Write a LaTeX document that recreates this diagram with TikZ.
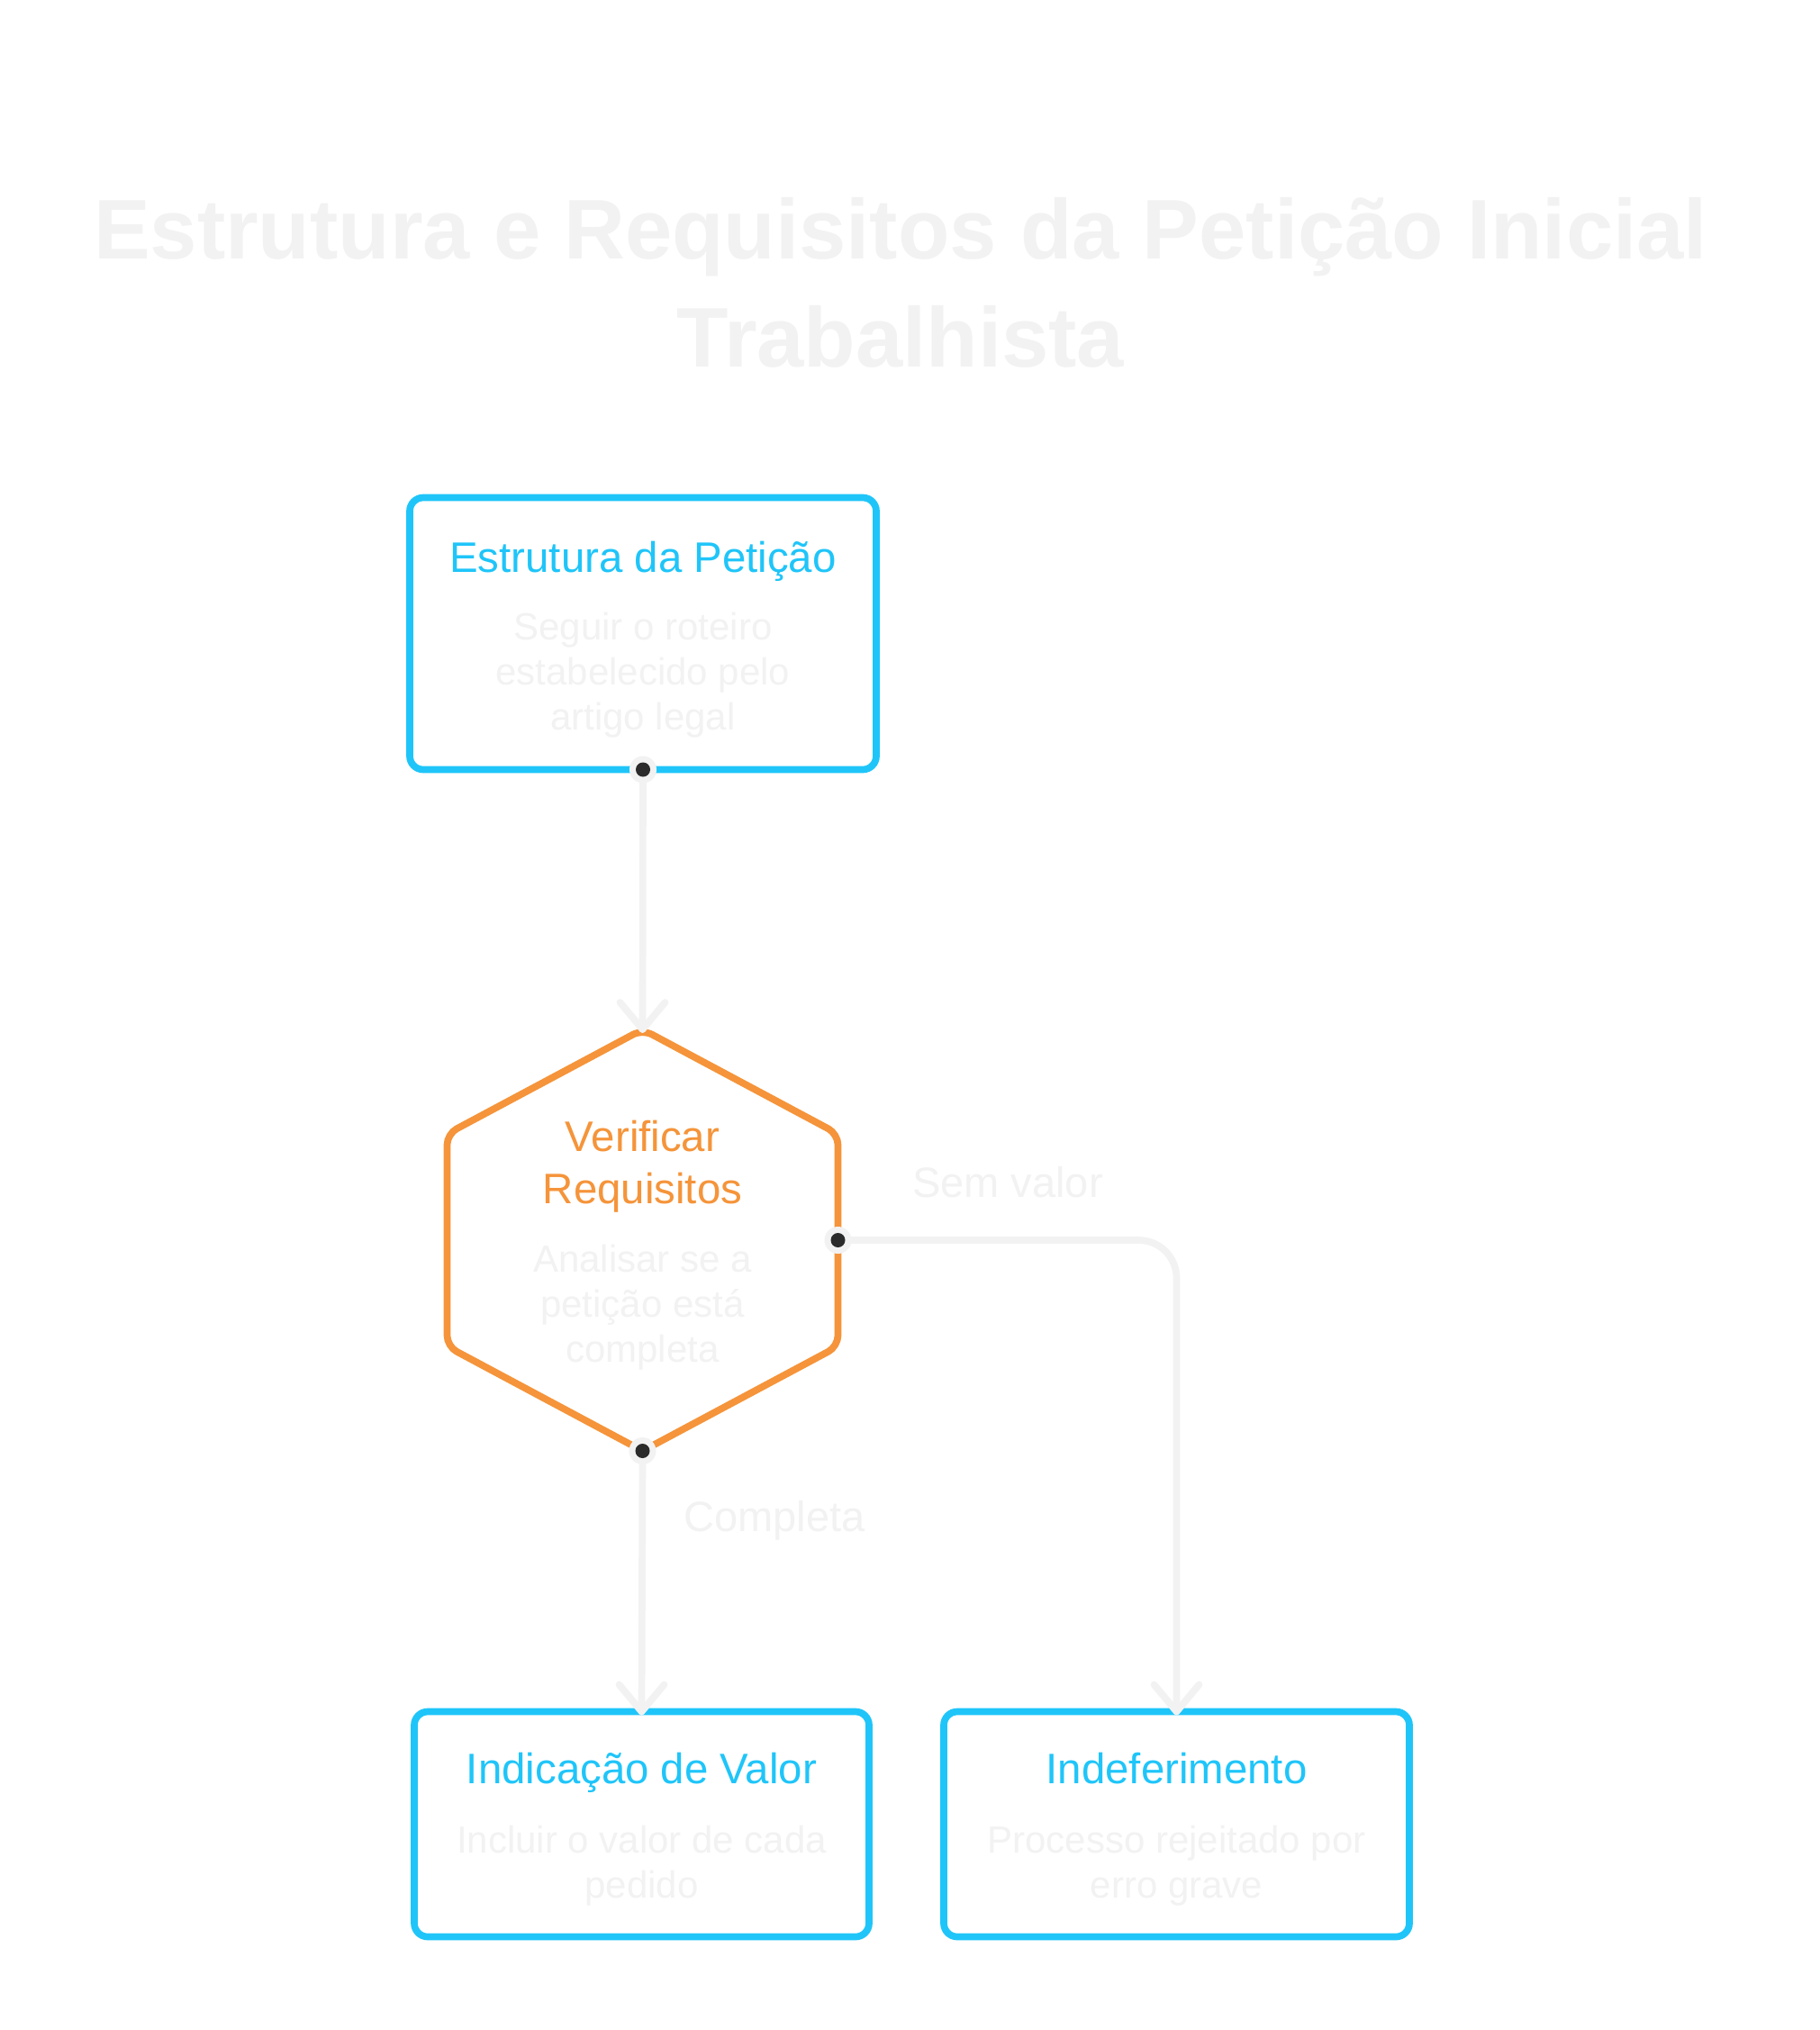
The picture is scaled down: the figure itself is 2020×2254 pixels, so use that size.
\documentclass[tikz,border=0pt]{standalone}
\usepackage{fontspec}
\setmainfont{Liberation Sans}
\usetikzlibrary{calc}
\definecolor{cyanB}{HTML}{1FC5F9}
\definecolor{orangeB}{HTML}{F5943A}
\definecolor{ltgray}{HTML}{F2F2F2}
\definecolor{dotc}{HTML}{2B2B2B}
\begin{document}
\begin{tikzpicture}[x=0.5pt,y=-0.5pt,
  box/.style={draw=cyanB, line width=3.85pt, rounded corners=7.5pt, outer sep=0pt, inner sep=0pt, fill=white},
  hexbox/.style={inner sep=0pt, outer sep=0pt},
  hexline/.style={draw=orangeB, line width=3.85pt, rounded corners=6pt, fill=white},
  conn/.style={draw=ltgray, line width=3.85pt, line cap=round, line join=round},
  ntitle/.style={anchor=base, align=center, inner sep=0pt, font=\fontsize{23.7}{29}\selectfont},
  ndesc/.style={anchor=base, align=center, inner sep=0pt, text=ltgray, font=\fontsize{21}{25}\selectfont},
  elabel/.style={anchor=base, inner sep=0pt, text=ltgray, font=\fontsize{23.5}{29}\selectfont},
  maintitle/.style={anchor=base, align=center, inner sep=0pt, text=ltgray, font=\bfseries\fontsize{47}{60}\selectfont}
]
\useasboundingbox[fill=white] (0,0) rectangle (2020,2254);

% title (anchor base = baseline of last line)
\node[maintitle] (title) at (1000,407) {Estrutura e Requisitos da Petição Inicial\\Trabalhista};

% boxes
\node[box, minimum width=259pt, minimum height=151pt] (top) at (714,703.5) {};
\node[box, minimum width=252.5pt, minimum height=125pt] (ind) at (712.5,2025.5) {};
\node[box, minimum width=258.5pt, minimum height=125pt] (indf) at (1306.5,2025.5) {};

% hexagon
\node[hexbox, minimum width=217pt, minimum height=234pt] (hex) at (713.5,1377) {};
\draw[hexline] (hex.north) -- ([yshift=-58pt]hex.north east) -- ([yshift=58pt]hex.south east)
  -- (hex.south) -- ([yshift=58pt]hex.south west) -- ([yshift=-58pt]hex.north west) -- cycle;

% texts
\node[ntitle, text=cyanB] (toptitle) at (714,635) {Estrutura da Petição};
\node[ndesc] (topdesc) at (714,810) {Seguir o roteiro\\estabelecido pelo\\artigo legal};
\node[ntitle, text=orangeB] (hextitle) at (713.5,1336) {Verificar\\Requisitos};
\node[ndesc] (hexdesc) at (713.5,1512) {Analisar se a\\petição está\\completa};
\node[ntitle, text=cyanB] (indtitle) at (712.5,1980) {Indicação de Valor};
\node[ndesc] (inddesc) at (712.5,2107) {Incluir o valor de cada\\pedido};
\node[ntitle, text=cyanB] (indftitle) at (1306.5,1980) {Indeferimento};
\node[ndesc] (indfdesc) at (1306.5,2107) {Processo rejeitado por\\erro grave};

% connectors
\draw[conn] (top.south) -- (hex.north);
\draw[conn] ([shift={(-25,-30)}]hex.north) -- (hex.north) -- ([shift={(25,-30)}]hex.north);
\draw[conn] (hex.south) -- (ind.north);
\draw[conn] ([shift={(-25,-30)}]ind.north) -- (ind.north) -- ([shift={(25,-30)}]ind.north);
\draw[conn, rounded corners=21pt] (hex.east) -- (hex.east -| indf.north) -- (indf.north);
\draw[conn] ([shift={(-25,-30)}]indf.north) -- (indf.north) -- ([shift={(25,-30)}]indf.north);

% labels
\node[elabel] (lsem) at (1119,1329) {Sem valor};
\node[elabel] (lcomp) at (860,1700) {Completa};

% dots
\foreach \p in {top.south, hex.south, hex.east}{
  \fill[ltgray] (\p) circle (7.5pt);
  \fill[dotc] (\p) circle (4pt);
}
\end{tikzpicture}
\end{document}
